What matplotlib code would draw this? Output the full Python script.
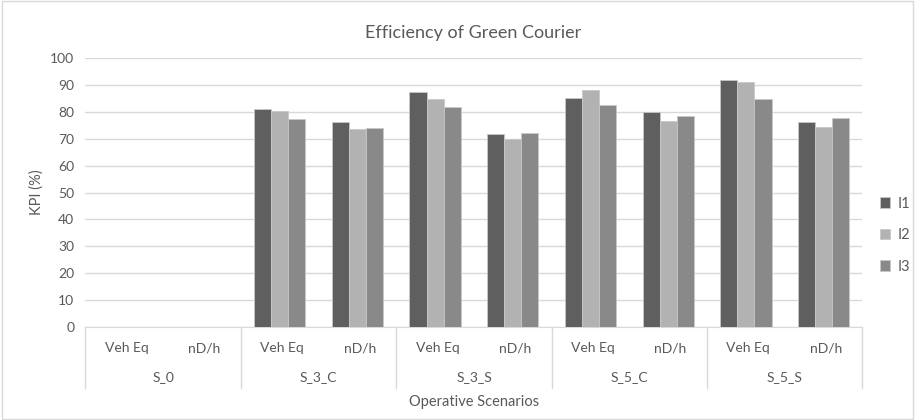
import matplotlib
matplotlib.use('Agg')
import numpy as np
import matplotlib.pyplot as plt
from matplotlib.patches import Rectangle, Patch

plt.rcParams['font.family'] = ['Lato', 'DejaVu Sans']

groups = ['S_0', 'S_3_C', 'S_3_S', 'S_5_C', 'S_5_S']
subcats = ['Veh Eq', 'nD/h']
series = ['I1', 'I2', 'I3']

i1 = [0, 0, 81.1, 76.3, 87.3, 71.7, 85.1, 79.9, 91.8, 76.3]
i2 = [0, 0, 80.5, 73.5, 84.8, 70.1, 88.3, 76.5, 91.1, 74.5]
i3 = [0, 0, 77.3, 73.9, 81.9, 72.2, 82.7, 78.6, 84.8, 77.9]

colors = ['#5f5f5f', '#b2b2b2', '#898989']
text_col = '#595959'
grid_col = '#d9d9d9'

fig = plt.figure(figsize=(9.15, 4.2), dpi=100)
ax = fig.add_axes([0.0934, 0.2221, 0.8492, 0.639])

x = np.arange(len(i1))
w = 0.22
for k, (vals, c) in enumerate(zip([i1, i2, i3], colors)):
    ax.bar(x + (k - 1) * w, vals, w, color=c, edgecolor='#c8c8c8',
           linewidth=0.6, zorder=3)

ax.set_ylim(0, 100)
ax.set_xlim(-0.5, len(i1) - 0.5)
ax.set_yticks(range(0, 101, 10))
ax.yaxis.grid(True, color=grid_col, linewidth=1, zorder=0)
ax.tick_params(axis='y', length=0, labelsize=10, labelcolor=text_col, pad=8)
ax.set_xticks([])
for s in ['top', 'right', 'left']:
    ax.spines[s].set_visible(False)
ax.spines['bottom'].set_color(grid_col)

# multi-level category axis
tr = ax.get_xaxis_transform()
for i in range(len(i1)):
    ax.text(i + 0.03, -0.08, subcats[i % 2], transform=tr, ha='center', va='center',
            fontsize=10, color=text_col)
for g, name in enumerate(groups):
    ax.text(2 * g + 0.5, -0.187, name, transform=tr, ha='center', va='center',
            fontsize=10, color=text_col)
for b in np.arange(-0.5, len(i1), 2):
    ax.plot([b, b], [0, -0.228], transform=tr, color=grid_col, lw=1, clip_on=False)

ax.text(0.5, -0.28, 'Operative Scenarios', transform=ax.transAxes, ha='center',
        va='center', fontsize=10.5, color=text_col)
ax.set_ylabel('KPI (%)', fontsize=10.5, color=text_col, labelpad=5)
fig.text(0.517, 0.922, 'Efficiency of Green Courier', ha='center', va='center',
         fontsize=13, color=text_col)

handles = [Patch(facecolor=c, edgecolor='#c8c8c8', linewidth=0.6) for c in colors]
fig.legend(handles, series, loc='center left', bbox_to_anchor=(0.955, 0.44),
           frameon=False, fontsize=10.5, labelcolor=text_col, handlelength=0.7,
           handleheight=0.7, handletextpad=0.5, labelspacing=1.2, borderaxespad=0)

fig.patches.append(Rectangle((0.002, 0.003), 0.996, 0.994, transform=fig.transFigure,
                             fill=False, edgecolor=grid_col, lw=1))

fig.savefig('out.png', dpi=100)
